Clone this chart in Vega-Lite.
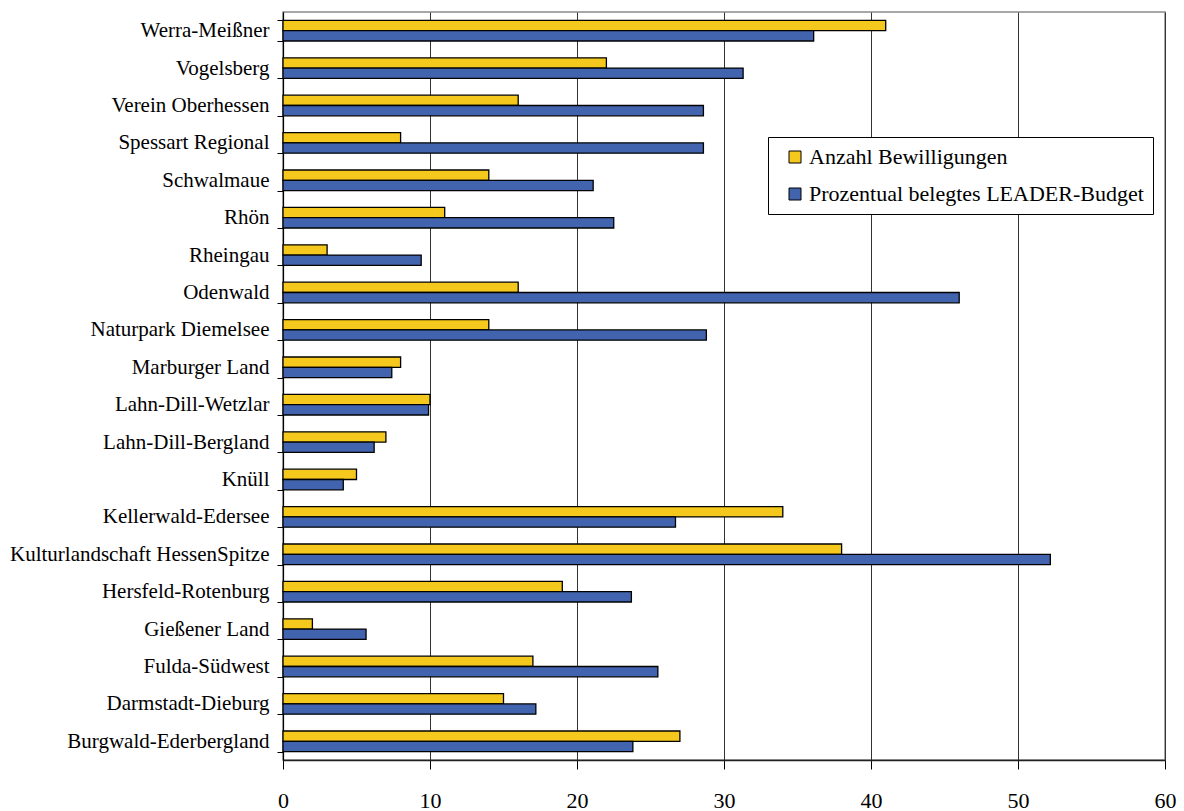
{
  "$schema": "https://vega.github.io/schema/vega-lite/v6.json",
  "autosize": {"type": "none"},
  "width": 882,
  "height": 748,
  "padding": {"left": 283, "top": 12, "right": 19, "bottom": 51},
  "background": "white",
  "config": {
    "view": {"stroke": "#8a8a8a", "strokeWidth": 1.5},
    "font": "Liberation Serif"
  },
  "data": {
    "values": [
      {"region": "Werra-Meißner", "series": "Anzahl Bewilligungen", "value": 41},
      {"region": "Werra-Meißner", "series": "Prozentual belegtes LEADER-Budget", "value": 36.1},
      {"region": "Vogelsberg", "series": "Anzahl Bewilligungen", "value": 22},
      {"region": "Vogelsberg", "series": "Prozentual belegtes LEADER-Budget", "value": 31.3},
      {"region": "Verein Oberhessen", "series": "Anzahl Bewilligungen", "value": 16},
      {"region": "Verein Oberhessen", "series": "Prozentual belegtes LEADER-Budget", "value": 28.6},
      {"region": "Spessart Regional", "series": "Anzahl Bewilligungen", "value": 8},
      {"region": "Spessart Regional", "series": "Prozentual belegtes LEADER-Budget", "value": 28.6},
      {"region": "Schwalmaue", "series": "Anzahl Bewilligungen", "value": 14},
      {"region": "Schwalmaue", "series": "Prozentual belegtes LEADER-Budget", "value": 21.1},
      {"region": "Rhön", "series": "Anzahl Bewilligungen", "value": 11},
      {"region": "Rhön", "series": "Prozentual belegtes LEADER-Budget", "value": 22.5},
      {"region": "Rheingau", "series": "Anzahl Bewilligungen", "value": 3},
      {"region": "Rheingau", "series": "Prozentual belegtes LEADER-Budget", "value": 9.4},
      {"region": "Odenwald", "series": "Anzahl Bewilligungen", "value": 16},
      {"region": "Odenwald", "series": "Prozentual belegtes LEADER-Budget", "value": 46},
      {"region": "Naturpark Diemelsee", "series": "Anzahl Bewilligungen", "value": 14},
      {"region": "Naturpark Diemelsee", "series": "Prozentual belegtes LEADER-Budget", "value": 28.8},
      {"region": "Marburger Land", "series": "Anzahl Bewilligungen", "value": 8},
      {"region": "Marburger Land", "series": "Prozentual belegtes LEADER-Budget", "value": 7.4},
      {"region": "Lahn-Dill-Wetzlar", "series": "Anzahl Bewilligungen", "value": 10},
      {"region": "Lahn-Dill-Wetzlar", "series": "Prozentual belegtes LEADER-Budget", "value": 9.9},
      {"region": "Lahn-Dill-Bergland", "series": "Anzahl Bewilligungen", "value": 7},
      {"region": "Lahn-Dill-Bergland", "series": "Prozentual belegtes LEADER-Budget", "value": 6.2},
      {"region": "Knüll", "series": "Anzahl Bewilligungen", "value": 5},
      {"region": "Knüll", "series": "Prozentual belegtes LEADER-Budget", "value": 4.1},
      {"region": "Kellerwald-Edersee", "series": "Anzahl Bewilligungen", "value": 34},
      {"region": "Kellerwald-Edersee", "series": "Prozentual belegtes LEADER-Budget", "value": 26.7},
      {"region": "Kulturlandschaft HessenSpitze", "series": "Anzahl Bewilligungen", "value": 38},
      {"region": "Kulturlandschaft HessenSpitze", "series": "Prozentual belegtes LEADER-Budget", "value": 52.2},
      {"region": "Hersfeld-Rotenburg", "series": "Anzahl Bewilligungen", "value": 19},
      {"region": "Hersfeld-Rotenburg", "series": "Prozentual belegtes LEADER-Budget", "value": 23.7},
      {"region": "Gießener Land", "series": "Anzahl Bewilligungen", "value": 2},
      {"region": "Gießener Land", "series": "Prozentual belegtes LEADER-Budget", "value": 5.65},
      {"region": "Fulda-Südwest", "series": "Anzahl Bewilligungen", "value": 17},
      {"region": "Fulda-Südwest", "series": "Prozentual belegtes LEADER-Budget", "value": 25.5},
      {"region": "Darmstadt-Dieburg", "series": "Anzahl Bewilligungen", "value": 15},
      {"region": "Darmstadt-Dieburg", "series": "Prozentual belegtes LEADER-Budget", "value": 17.2},
      {"region": "Burgwald-Ederbergland", "series": "Anzahl Bewilligungen", "value": 27},
      {"region": "Burgwald-Ederbergland", "series": "Prozentual belegtes LEADER-Budget", "value": 23.8}
    ]
  },
  "mark": {"type": "bar", "stroke": "black", "strokeWidth": 1.3},
  "encoding": {
    "y": {
      "field": "region",
      "type": "nominal",
      "sort": null,
      "scale": {"paddingInner": 0.45, "paddingOuter": 0.225},
      "axis": {
        "title": null,
        "labelFont": "Liberation Serif",
        "labelFontSize": 21,
        "labelColor": "black",
        "labelPadding": 8,
        "tickSize": 6,
        "tickColor": "black",
        "tickBand": "extent",
        "domainColor": "black",
        "domainWidth": 1.2,
        "grid": false,
        "labelLimit": 400
      }
    },
    "yOffset": {"field": "series", "type": "nominal", "scale": {"paddingInner": 0, "paddingOuter": 0}},
    "x": {
      "field": "value",
      "type": "quantitative",
      "scale": {"domain": [0, 60], "nice": false},
      "axis": {
        "title": null,
        "values": [0, 10, 20, 30, 40, 50, 60],
        "labelFont": "Liberation Serif",
        "labelFontSize": 22,
        "labelColor": "black",
        "labelPadding": 21,
        "labelFlush": false,
        "tickSize": 9,
        "tickColor": "black",
        "domainColor": "#222",
        "domainWidth": 1.5,
        "grid": true,
        "gridColor": "#333",
        "gridWidth": 1
      }
    },
    "color": {
      "field": "series",
      "type": "nominal",
      "scale": {
        "domain": ["Anzahl Bewilligungen", "Prozentual belegtes LEADER-Budget"],
        "range": ["#F5C81E", "#4264AE"]
      },
      "legend": {
        "title": null,
        "orient": "none",
        "legendX": 485,
        "legendY": 125,
        "direction": "vertical",
        "fillColor": "white",
        "strokeColor": "black",
        "padding": 9,
        "symbolType": "square",
        "symbolSize": 144,
        "symbolStrokeColor": "black",
        "symbolStrokeWidth": 1,
        "symbolOffset": 7,
        "labelFont": "Liberation Serif",
        "labelFontSize": 22,
        "labelColor": "black",
        "labelOffset": 3,
        "labelLimit": 500,
        "rowPadding": 15
      }
    }
  }
}
